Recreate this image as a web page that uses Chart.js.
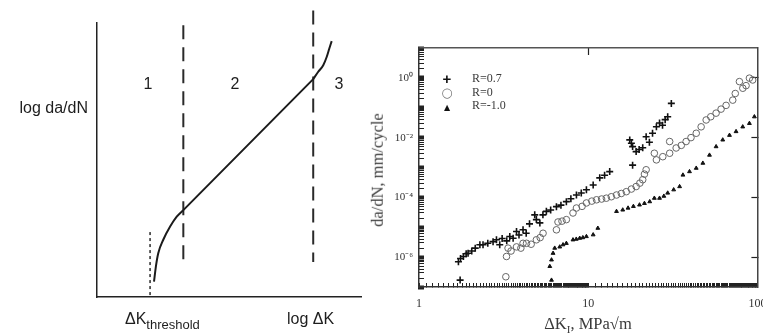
<!DOCTYPE html>
<html>
<head>
<meta charset="utf-8">
<script src="https://cdn.jsdelivr.net/npm/chart.js@4.4.1/dist/chart.umd.min.js"></script>
<style>
  body { margin: 0; background: #fff; width: 763px; height: 334px; position: relative; overflow: hidden; }
  canvas { position: absolute; top: 0; }
  #left { left: 0; }
  #right { left: 380px; }
  .t { position: absolute; white-space: nowrap; line-height: 1; }
  .sans { font-family: "Liberation Sans", Arial, sans-serif; font-size: 16px; color: #1e1e1e; }
  .serif { font-family: "Liberation Serif", "Times New Roman", serif; color: #3a3a3a; }
  .sub { font-size: 13px; position: relative; top: 5px; }
  .ctr { transform: translateX(-50%); }
</style>
</head>
<body>
<canvas id="left" width="380" height="334"></canvas>
<canvas id="right" width="383" height="334"></canvas>

<div class="t sans" style="left:0;width:88px;text-align:right;top:100px;">log da/dN</div>
<div class="t sans ctr" style="left:148px;top:76px;">1</div>
<div class="t sans ctr" style="left:235px;top:76px;">2</div>
<div class="t sans ctr" style="left:339px;top:76px;">3</div>
<div class="t sans" style="left:125px;top:311px;">ΔK<span class="sub">threshold</span></div>
<div class="t sans" style="left:287px;top:311px;">log ΔK</div>

<div id="legend"></div>
<div class="t serif ctr" style="left:588px;top:316px;font-size:16.5px;">ΔK<span style="font-size:11px;position:relative;top:4px;">I</span>, MPa√m</div>
<div class="t serif" style="left:378px;top:170px;font-size:16.5px;transform:translate(-50%,-50%) rotate(-90deg);">da/dN, mm/cycle</div>

<script>
// left: schematic crack growth curve (arbitrary log units), three regions
const lowLogK = [2.16, 2.23, 2.32, 2.51, 2.77, 3.02, 3.27];
const lowLogRate = [0.56, 1.11, 1.60, 2.09, 2.57, 2.93, 3.17];
const midLogK = [3.27, 8.19];
const midLogRate = [3.17, 7.95];
const highLogK = [8.19, 8.38, 8.57, 8.70, 8.80, 8.89];
const highLogRate = [7.95, 8.22, 8.46, 8.76, 9.07, 9.34];
const regionBounds = [3.27, 8.19];
const boundTop = [9.92, 10.46];
const boundBottom = [1.35, 1.28];
const thresholdK = 2.01;
const thresholdTop = 2.37;

// right: measured data, dK (MPa sqrt m) vs da/dN (mm/cycle)
const seriesNames = ['R=0.7', 'R=0', 'R=-1.0'];
const kR07 = [1.71, 1.76, 1.83, 1.9, 1.95, 2.05, 2.15, 2.29, 2.39, 2.55, 2.74, 2.87, 3.0, 3.1, 3.3, 3.44, 3.6, 3.77, 3.9, 4.12,
  4.3, 4.5, 4.83, 4.94, 5.18, 5.4, 5.66, 6.0, 6.49, 6.9, 7.43, 7.9, 8.52, 9.1, 9.76, 10.7, 11.7, 12.5, 13.4, 18.3,
  17.6, 18.0, 18.3, 19.2, 20.0, 21.0, 22.0, 23.0, 24.0, 25.3, 26.4, 27.5, 28.5, 29.5, 31.0, 1.75];
const rateR07 = [7e-7, 9e-7, 1.05e-6, 1.3e-6, 1.35e-6, 1.6e-6, 2.0e-6, 2.6e-6, 2.6e-6, 2.9e-6, 3.3e-6, 3.8e-6, 2.6e-6, 4.2e-6, 3.5e-6, 4.9e-6, 4.3e-6, 7.2e-6, 5.5e-6, 8.2e-6,
  6.3e-6, 1.3e-5, 2.6e-5, 1.8e-5, 1.4e-5, 2.6e-5, 3.4e-5, 3.8e-5, 4.9e-5, 5.5e-5, 7.2e-5, 9e-5, 1.2e-4, 1.4e-4, 1.8e-4, 2.6e-4, 4.5e-4, 5.5e-4, 7.3e-4, 1.2e-3,
  8.4e-3, 6.5e-3, 5.0e-3, 3.4e-3, 4.0e-3, 4.6e-3, 1.07e-2, 7e-3, 1.4e-2, 2.3e-2, 3.1e-2, 2.6e-2, 4.0e-2, 5.0e-2, 0.14, 1.7e-7];
const kR0 = [3.29, 3.36, 3.5, 3.77, 4.0, 4.12, 4.32, 4.6, 4.94, 5.2, 5.41, 6.49, 6.63, 7.0, 7.43, 8.13, 8.52, 9.2, 9.76, 10.5,
  11.2, 12.0, 12.8, 13.7, 14.7, 15.7, 16.8, 18.0, 19.2, 20.2, 21.0, 21.5, 22.0, 24.6, 25.3, 27.6, 30.3, 30.3, 33.1, 35.5,
  37.9, 40.5, 43.5, 46.5, 49.8, 53.0, 57.0, 61.0, 65.3, 71.5, 74.0, 78.3, 82.0, 85.7, 89.7, 93.8, 3.26];
const rateR0 = [1.05e-6, 2.0e-6, 1.6e-6, 2.2e-6, 2.0e-6, 2.9e-6, 2.9e-6, 2.7e-6, 3.8e-6, 4.5e-6, 6.3e-6, 8.2e-6, 1.5e-5, 1.6e-5, 1.8e-5, 3.0e-5, 4.4e-5, 5.0e-5, 6.5e-5, 7.5e-5,
  8.3e-5, 8.8e-5, 9.4e-5, 1.05e-4, 1.2e-4, 1.35e-4, 1.55e-4, 1.9e-4, 2.3e-4, 3.0e-4, 3.9e-4, 6e-4, 8.4e-4, 3.0e-3, 1.8e-3, 2.3e-3, 3.0e-3, 7.4e-3, 4.5e-3, 5.5e-3,
  7.4e-3, 1.0e-2, 1.4e-2, 2.3e-2, 3.9e-2, 5.0e-2, 6.6e-2, 9e-2, 0.12, 0.18, 0.30, 0.75, 0.45, 0.55, 0.98, 0.85, 2.2e-7];
const kRm1 = [5.93, 6.07, 6.2, 6.34, 6.79, 7.1, 7.43, 8.13, 8.5, 8.91, 9.3, 9.76, 10.7, 11.4, 14.7, 16.0, 17.2, 18.5, 20.1, 21.5,
  23.1, 24.6, 26.4, 28.0, 29.5, 32.0, 34.7, 36.3, 39.7, 43.5, 47.6, 52.1, 57.0, 62.4, 68.4, 74.8, 81.9, 89.7, 96.0, 6.07];
const rateRm1 = [4.9e-7, 8.1e-7, 1.35e-6, 2.0e-6, 2.2e-6, 2.6e-6, 2.9e-6, 3.8e-6, 4.0e-6, 4.3e-6, 4.5e-6, 4.9e-6, 5.6e-6, 9.3e-6, 3.4e-5, 3.8e-5, 4.4e-5, 5.0e-5, 5.6e-5, 6.3e-5,
  7.2e-5, 9.4e-5, 9.4e-5, 1.1e-4, 1.4e-4, 1.8e-4, 2.3e-4, 5.6e-4, 7.3e-4, 9.5e-4, 1.4e-3, 2.6e-3, 5.0e-3, 8.4e-3, 1.2e-2, 1.6e-2, 2.3e-2, 3.0e-2, 5.0e-2, 1.7e-7];
const xTickValues = [1, 10, 100];
const yTickExps = [0, -2, -4, -6];

function zip(xs, ys) {
  return xs.map((x, i) => ({ x: x, y: ys[i] }));
}

const supChars = { '0': '⁰', '1': '¹', '2': '²', '3': '³', '4': '⁴', '5': '⁵', '6': '⁶', '7': '⁷', '8': '⁸', '9': '⁹', '-': '⁻' };
function pow10Label(e) {
  return '10' + String(e).split('').map(c => supChars[c]).join('');
}
function isDecade(v) {
  const l = Math.log10(v);
  return Math.abs(l - Math.round(l)) < 1e-6;
}

// legend (html text)
const legendSyms = ['<span style="font:bold 15px Liberation Sans;color:#111">+</span>',
  '<span style="font:13px DejaVu Sans;color:#777">○</span>',
  '<span style="font:8px DejaVu Sans;color:#111">▲</span>'];
const legendY = [78, 92, 105];
let lg = '';
seriesNames.forEach((n, i) => {
  lg += '<div class="t ctr" style="left:447px;top:' + legendY[i] + 'px;transform:translate(-50%,-50%)">' + legendSyms[i] + '</div>';
  lg += '<div class="t serif" style="left:472px;top:' + legendY[i] + 'px;font-size:12px;transform:translateY(-50%)">' + n + '</div>';
});
document.getElementById('legend').innerHTML = lg;

// ---------- left chart ----------
function curve(xs, ys) {
  return {
    data: zip(xs, ys),
    borderColor: '#1b1b1b', borderWidth: 2, pointRadius: 0,
    cubicInterpolationMode: 'monotone'
  };
}
function vline(x, y0, y1, dash, w) {
  return {
    data: [{ x: x, y: y0 }, { x: x, y: y1 }],
    borderColor: '#2a2a2a', borderWidth: w, borderDash: dash,
    pointRadius: 0, clip: false
  };
}

new Chart(document.getElementById('left'), {
  type: 'line',
  data: {
    datasets: [
      curve(lowLogK, lowLogRate),
      curve(midLogK, midLogRate),
      curve(highLogK, highLogRate),
      vline(regionBounds[0], boundTop[0], boundBottom[0], [14, 8], 2),
      vline(regionBounds[1], boundTop[1], boundBottom[1], [14, 8], 2),
      vline(thresholdK, thresholdTop, 0, [3, 3], 1.5)
    ]
  },
  options: {
    responsive: false,
    animation: false,
    layout: { padding: { left: 97, right: 19, top: 23, bottom: 37 } },
    plugins: { legend: { display: false }, tooltip: { enabled: false } },
    scales: {
      x: {
        type: 'linear', min: 0, max: 10,
        ticks: { display: false }, grid: { display: false },
        border: { color: '#222', width: 1.5 },
        afterFit(s) { s.height = 0; s.paddingLeft = 0; s.paddingRight = 0; }
      },
      y: {
        type: 'linear', min: 0, max: 10,
        ticks: { display: false }, grid: { display: false },
        border: { color: '#222', width: 1.5 },
        afterFit(s) { s.width = 0; s.paddingTop = 0; s.paddingBottom = 0; }
      }
    }
  }
});

// ---------- right chart ----------
const serifFont = { family: '"Liberation Serif", "Times New Roman", serif', size: 12 };

new Chart(document.getElementById('right'), {
  type: 'scatter',
  data: {
    datasets: [
      {
        label: seriesNames[0], data: zip(kR07, rateR07),
        pointStyle: 'cross', pointRadius: 3.5, borderColor: '#111', borderWidth: 1.6
      },
      {
        label: seriesNames[1], data: zip(kR0, rateR0),
        pointStyle: 'circle', pointRadius: 3.3, borderColor: '#666', borderWidth: 1,
        backgroundColor: 'rgba(0,0,0,0)'
      },
      {
        label: seriesNames[2], data: zip(kRm1, rateRm1),
        pointStyle: 'triangle', pointRadius: 2.2, borderColor: '#111', backgroundColor: '#111', borderWidth: 1
      }
    ]
  },
  options: {
    responsive: false,
    animation: false,
    layout: { padding: { left: 0, right: 5, top: 48, bottom: 0 } },
    plugins: { legend: { display: false }, tooltip: { enabled: false } },
    scales: {
      x: {
        type: 'logarithmic', position: 'bottom', min: 1, max: 100,
        afterBuildTicks(s) {
          const t = [];
          for (let e = 0; e < 2; e++) {
            for (let n = 10; n < 100; n++) t.push({ value: n * Math.pow(10, e - 1) });
          }
          t.push({ value: 100 });
          s.ticks = t;
        },
        ticks: {
          autoSkip: false, maxRotation: 0, padding: 14, color: '#333', font: serifFont,
          callback: (v) => xTickValues.some(x => Math.abs(x - v) < 1e-6) ? String(v) : ''
        },
        grid: { drawOnChartArea: false, tickLength: -4, tickColor: '#222', tickWidth: 1 },
        border: { color: '#333', width: 1.5 },
        afterFit(s) { s.height = 47; s.paddingLeft = 0; s.paddingRight = 0; }
      },
      x2: {
        type: 'logarithmic', axis: 'x', position: 'top', min: 1, max: 100,
        afterBuildTicks(s) { s.ticks = [{ value: 10 }]; },
        ticks: { display: false },
        grid: { drawOnChartArea: false, tickLength: -7, tickColor: '#222', tickWidth: 1.2 },
        border: { color: '#555', width: 1.5 },
        afterFit(s) { s.height = 0; s.paddingLeft = 0; s.paddingRight = 0; }
      },
      y: {
        type: 'logarithmic', position: 'left', min: 1e-7, max: 10,
        afterBuildTicks(s) {
          const t = [];
          for (let e = -7; e <= 0; e++) {
            for (let n = 1; n <= 9; n++) t.push({ value: n * Math.pow(10, e) });
          }
          t.push({ value: 10 });
          s.ticks = t;
        },
        ticks: {
          autoSkip: false, padding: 11, color: '#333',
          font: { family: serifFont.family, size: 11 },
          callback: (v) => {
            const e = Math.round(Math.log10(v));
            return isDecade(v) && yTickExps.includes(e) ? pow10Label(e) : '';
          }
        },
        grid: {
          drawOnChartArea: false, tickLength: -5, tickColor: '#222',
          tickWidth: (c) => (c.tick && isDecade(c.tick.value)) ? 4 : 1
        },
        border: { color: '#333', width: 1.5 },
        afterFit(s) { s.width = 39; s.paddingTop = 0; s.paddingBottom = 0; }
      },
      y2: {
        type: 'logarithmic', axis: 'y', position: 'right', min: 1e-7, max: 10,
        afterBuildTicks(s) { s.ticks = yTickExps.map(e => ({ value: Math.pow(10, e) })); },
        ticks: { display: false },
        grid: { drawOnChartArea: false, tickLength: -6, tickColor: '#222', tickWidth: 1.2 },
        border: { color: '#444', width: 1.5 },
        afterFit(s) { s.width = 0; s.paddingTop = 0; s.paddingBottom = 0; }
      }
    }
  }
});
</script>
</body>
</html>
